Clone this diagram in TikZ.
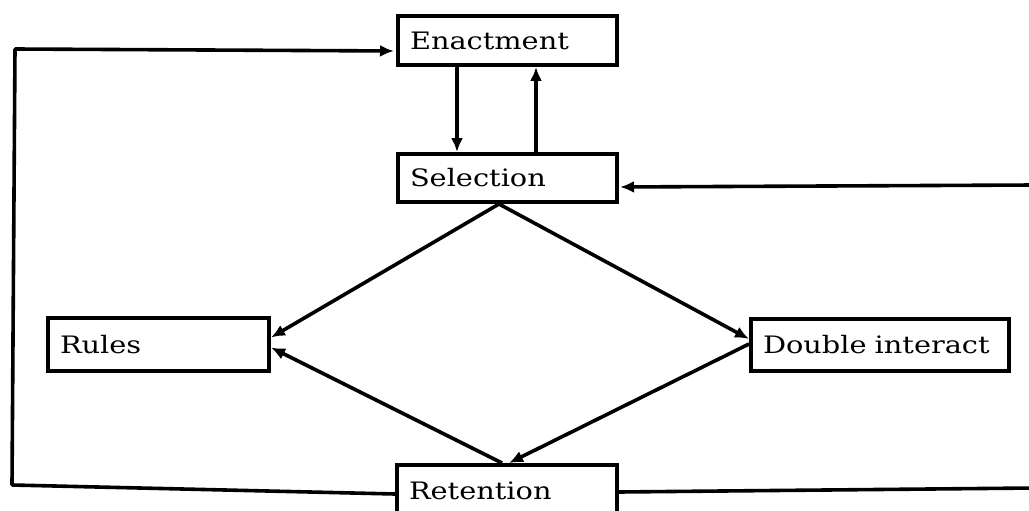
\documentclass[tikz,border=0pt]{standalone}
\usepackage{fontspec}
\setmainfont{DejaVu Serif}[FakeStretch=1.2]
\usetikzlibrary{arrows.meta}
\begin{document}
\begin{tikzpicture}[x=1pt,y=-1pt,
  box/.style={draw, line width=4pt, anchor=north west, inner xsep=12pt, inner ysep=0pt,
              align=left, font=\fontsize{24}{28}\selectfont},
  arr/.style={line width=3.6pt, -{Latex[length=14pt,width=12pt]}}]
\useasboundingbox (0,0) rectangle (1029,511);
\node[box, minimum width=219pt, minimum height=49pt, text width=195pt] (enact) at (396,14) {Enactment};
\node[box, minimum width=219pt, minimum height=48pt, text width=195pt] (sel) at (396,152) {Selection};
\node[box, minimum width=221pt, minimum height=53pt, text width=197pt] (rules) at (46,316) {Rules};
\node[box, minimum width=258pt, minimum height=52pt, text width=234pt] (dbl) at (749,317) {Double interact};
\node[box, minimum width=220pt, minimum height=51pt, text width=196pt] (ret) at (395,463) {Retention};

\draw[arr] ([xshift=61pt]enact.south west) -- ([xshift=61pt]sel.north west);
\draw[arr] ([xshift=140pt]sel.north west) -- ([xshift=140pt]enact.south west);

\draw[arr] ([xshift=-8.5pt]sel.south) -- ([yshift=7pt]rules.east);
\draw[arr] ([xshift=-8.5pt]sel.south) -- ([yshift=6pt]dbl.west);
\draw[arr] ([xshift=-5pt]ret.north) -- ([yshift=-3pt]rules.east);
\draw[arr] ([yshift=1pt]dbl.west) -- ([xshift=2pt]ret.north);

\coordinate (lb) at (12,485);
\coordinate (lt) at (15,49);
\draw[arr, rounded corners=1pt, shorten >=2pt] ([yshift=-3.5pt]ret.west) -- (lb) -- (lt) -- ([yshift=-10.5pt]enact.west);

\coordinate (rb) at (1034,488);
\coordinate (rt) at (1034,185);
\draw[arr, shorten >=1pt] ([yshift=-1.5pt]ret.east) -- (rb) -- (rt) -- ([yshift=-9pt]sel.east);
\end{tikzpicture}
\end{document}
